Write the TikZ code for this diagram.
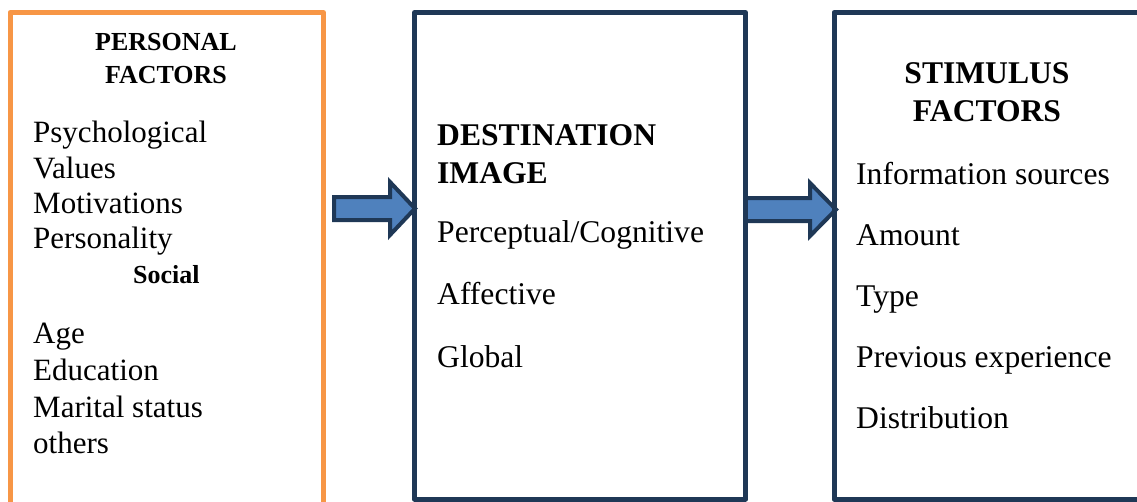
\documentclass[tikz,border=0pt]{standalone}
\usepackage{fontspec}
\setmainfont{Liberation Serif}
\definecolor{boxnavy}{RGB}{31,56,86}
\definecolor{boxorange}{RGB}{247,150,70}
\definecolor{arrowfill}{RGB}{79,129,189}
\tikzset{
  frame/.style={line width=5pt, line join=round},
  blockarrow/.style={draw=boxnavy, fill=arrowfill, line width=4pt, line join=miter},
  body/.style={inner sep=0pt, anchor=base west, font=\fontsize{31}{36}\selectfont},
  bodyr/.style={inner sep=0pt, anchor=base west, font=\fontsize{31.6}{36}\selectfont},
  head/.style={inner sep=0pt, anchor=base, font=\fontsize{31.6}{36}\selectfont\bfseries},
  smallhead/.style={inner sep=0pt, anchor=base, font=\fontsize{26}{30}\selectfont\bfseries},
}
\begin{document}
\begin{tikzpicture}[x=1pt,y=-1pt]
\useasboundingbox (0,0) rectangle (1137,501);
% block arrows
\draw[blockarrow] (334,197) -- (390,197) -- (390,182) -- (415,208.5) -- (390,235) -- (390,220) -- (334,220) -- cycle;
\draw[blockarrow] (745,198) -- (810,198) -- (810,183) -- (836,209.5) -- (810,236) -- (810,221) -- (745,221) -- cycle;
% boxes
\draw[frame, draw=boxorange] (10,12.5) rectangle (323.5,515);
\draw[frame, draw=boxnavy] (414.5,12.5) rectangle (745.5,499);
\draw[frame, draw=boxnavy] (834,12.5) rectangle (1150,499);
% left box text
\node[smallhead] (ph1) at (166,50) {PERSONAL};
\node[smallhead] (ph2) at (166,83) {FACTORS};
\node[body] (p1) at (33,142) {Psychological};
\node[body] (p2) at (33,178) {Values};
\node[body] (p3) at (33,213) {Motivations};
\node[body] (p4) at (33,248) {Personality};
\node[smallhead, anchor=base west] (p5) at (133,283) {Social};
\node[body] (p6) at (33,343) {Age};
\node[body] (p7) at (33,380) {Education};
\node[body] (p8) at (33,417) {Marital status};
\node[body] (p9) at (33,453) {others};
% middle box text
\node[head, anchor=base west] (dh1) at (437,145) {DESTINATION};
\node[head, anchor=base west] (dh2) at (437,183) {IMAGE};
\node[bodyr] (d1) at (437,242) {Perceptual/Cognitive};
\node[bodyr] (d2) at (437,304) {Affective};
\node[bodyr] (d3) at (437,367) {Global};
% right box text
\node[head] (sh1) at (987,83) {STIMULUS};
\node[head] (sh2) at (987,121) {FACTORS};
\node[bodyr] (s1) at (856,184) {Information sources};
\node[bodyr] (s2) at (856,245) {Amount};
\node[bodyr] (s3) at (856,306) {Type};
\node[bodyr] (s4) at (856,367) {Previous experience};
\node[bodyr] (s5) at (856,428) {Distribution};
\end{tikzpicture}
\end{document}
